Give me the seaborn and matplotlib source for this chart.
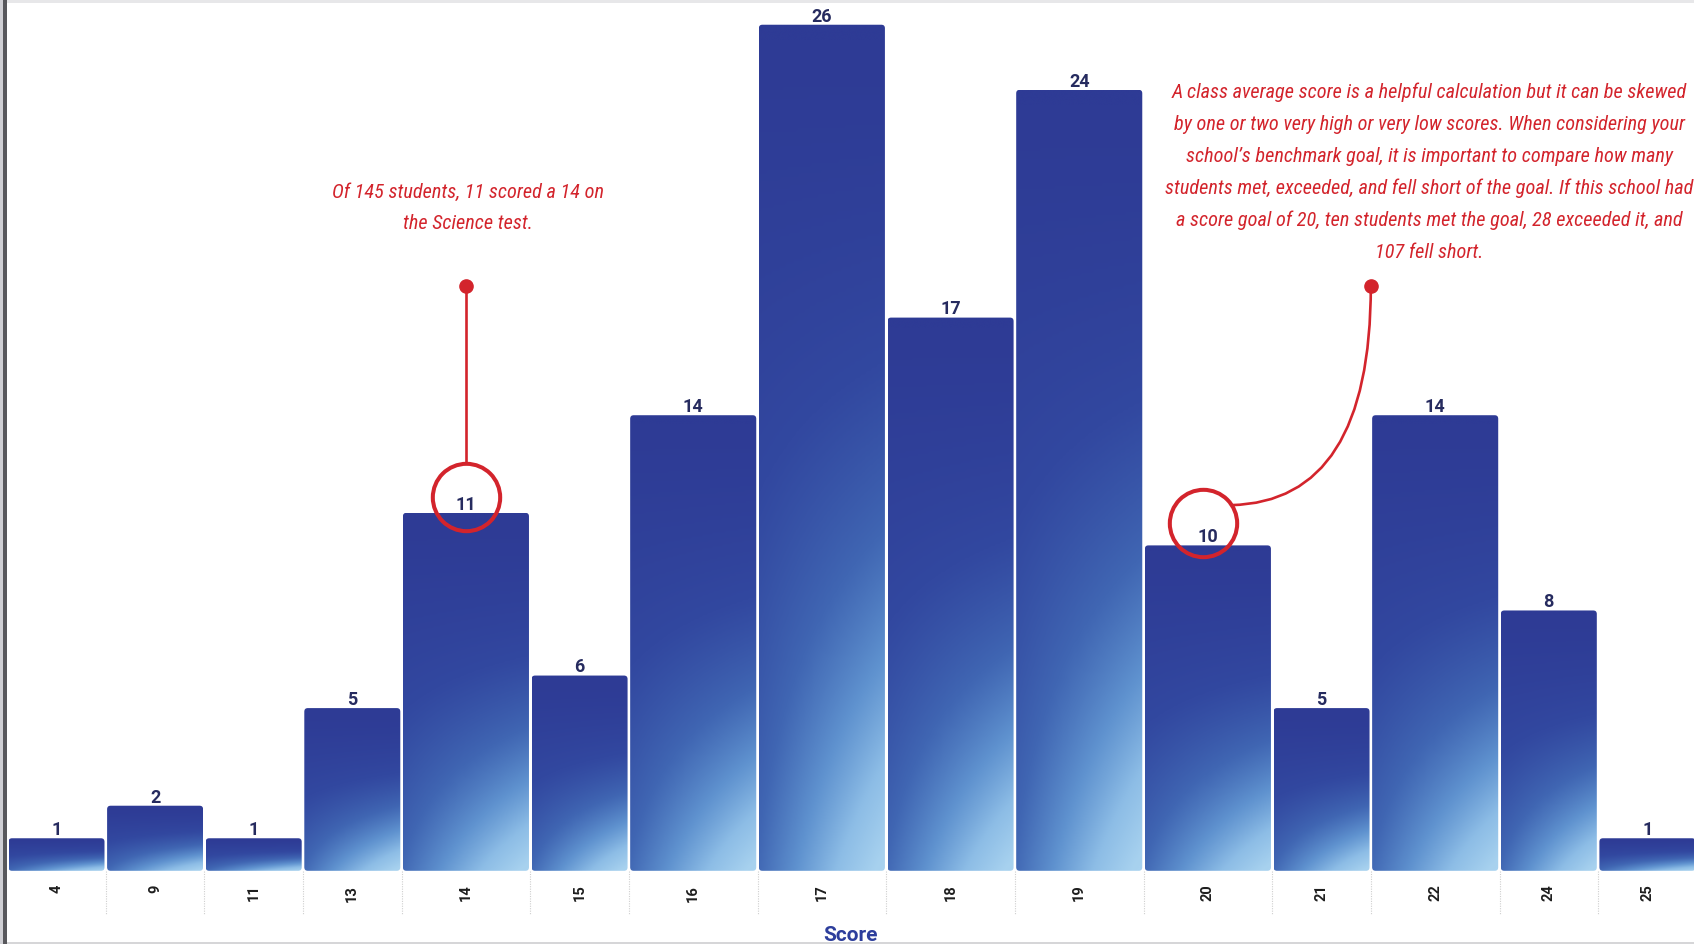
import numpy as np
import pandas as pd
import matplotlib
matplotlib.use("Agg")
import matplotlib.pyplot as plt
import seaborn as sns
from matplotlib import font_manager as fm
from matplotlib.patches import FancyBboxPatch, Rectangle, PathPatch
from matplotlib.path import Path
from matplotlib.colors import LinearSegmentedColormap

# ---- data -------------------------------------------------------------
scores = ["4", "9", "11", "13", "14", "15", "16", "17", "18", "19", "20", "21", "22", "24", "25"]
counts = [1, 2, 1, 5, 11, 6, 14, 26, 17, 24, 10, 5, 14, 8, 1]

note_left = ["Of 145 students, 11 scored a 14 on",
             "the Science test."]
note_right = ["A class average score is a helpful calculation but it can be skewed",
              "by one or two very high or very low scores. When considering your",
              "school\u2019s benchmark goal, it is important to compare how many",
              "students met, exceeded, and fell short of the goal. If this school had",
              "a score goal of 20, ten students met the goal, 28 exceeded it, and",
              "107 fell short."]
highlight_left = "14"
highlight_right = "20"

# ---- style ------------------------------------------------------------
W, H = 1694, 944
RED = "#d3242c"
NAVY = "#262b5f"
BLUE = "#2d3e9c"

sns.set_theme(style="white")
plt.rcParams["font.family"] = ["Roboto", "DejaVu Sans"]


def note_font():
    entries = fm.fontManager.ttflist
    prefs = ["Liberation Sans Narrow", "DejaVu Sans Condensed", "Roboto Condensed",
             "Open Sans Condensed", "Noto Sans Condensed"]
    for name in prefs:
        for e in entries:
            if e.name == name and e.style in ("italic", "oblique") and e.weight in (400, "normal", "regular"):
                return fm.FontProperties(fname=e.fname)
    for e in entries:
        fn = e.fname.lower()
        if ("narrow" in fn or "condensed" in fn) and ("italic" in fn or "oblique" in fn) and "bold" not in fn:
            return fm.FontProperties(fname=e.fname)
    return fm.FontProperties(family="DejaVu Sans", style="italic")


fig = plt.figure(figsize=(W / 100, H / 100), dpi=100)
fig.patch.set_facecolor("white")

base_px = 870.8           # baseline, pixels from top
left_px = 7.2
ax = fig.add_axes([left_px / W, (H - base_px) / H, 1 - left_px / W, base_px / H])

df = pd.DataFrame({"Score": scores, "Students": counts})
sns.barplot(data=df, x="Score", y="Students", ax=ax, color="#2e3b95",
            saturation=1, width=1.0, errorbar=None)

# two-digit counts get wider columns
widths = np.where(np.array(counts) >= 10, 1.305, 1.0)
edges = np.concatenate([[0.0], np.cumsum(widths)])
centers = edges[:-1] + widths / 2

px_per_x = 98.6
y_top = 26.76
px_per_y = base_px / y_top
gap = 2.6 / px_per_x

cmap = LinearSegmentedColormap.from_list(
    "bar_grad", ["#2e3b95", "#3248a0", "#4066b3", "#5f92cf", "#8dbde6", "#a8d2ef"])
nx, ny = 80, 240
u = np.linspace(0, 1, nx)[None, :]
v = np.linspace(0, 1, ny)[:, None]
depth = 1 - v
grad = np.clip(0.42 * depth ** 1.25 + 0.62 * u * depth ** 2.4, 0, 1)

r_x = 3.5 / px_per_x
aspect = (3.5 / px_per_y) / r_x
for patch, x0, w, c in zip(ax.patches, edges[:-1], widths, counts):
    patch.set_x(x0 + gap / 2)
    patch.set_width(w - gap)
    patch.set_visible(False)
    bx0, bx1 = x0 + gap / 2, x0 + w - gap / 2
    box = FancyBboxPatch((bx0, 0), bx1 - bx0, c,
                         boxstyle=f"round,pad=0,rounding_size={r_x}",
                         mutation_aspect=aspect, facecolor="none", edgecolor="none")
    ax.add_patch(box)
    im = ax.imshow(grad, cmap=cmap, vmin=0, vmax=1, origin="lower",
                   extent=(bx0, bx1, 0, c), aspect="auto",
                   interpolation="bicubic", zorder=2)
    im.set_clip_path(box)
    ax.annotate(str(c), (x0 + w / 2, c), xytext=(0, -0.6), textcoords="offset points",
                ha="center", va="bottom", fontsize=13, fontweight="bold",
                color=NAVY, zorder=5)

ax.set_xlim(0, (W - left_px) / px_per_x)
ax.set_ylim(0, y_top)
ax.set_aspect("auto")

# category axis
ax.set_xticks(centers)
ax.set_xticklabels(scores, rotation=90, fontsize=10.5, fontweight="bold", color="#1e1e1e")
ax.tick_params(axis="x", length=0, pad=10)
ax.set_yticks([])
ax.set_ylabel("")
for s in ax.spines.values():
    s.set_visible(False)

sep = ax.vlines(edges[1:-1], 0, -44 / px_per_y, colors="#cfcfcf",
                linestyles=(0, (1, 1.2)), linewidth=0.8, zorder=1)
sep.set_clip_on(False)

ax.set_xlabel("Score", fontsize=15, fontweight="bold", color=BLUE)
ax.xaxis.set_label_coords(0.5, -65 / base_px)
ax.xaxis.label.set_va("center")

# ---- callouts ---------------------------------------------------------
i_l = scores.index(highlight_left)
i_r = scores.index(highlight_right)
dot_y = 17.97
ring_kw = dict(marker="o", markersize=48.5, markerfacecolor="none",
               markeredgecolor=RED, markeredgewidth=2.9, linestyle="none", zorder=6)
dot_kw = dict(marker="o", markersize=9.5, color=RED, linestyle="none", zorder=7)

ring_l_y = counts[i_l] + 15.5 / px_per_y
ring_r_y = counts[i_r] + 22.5 / px_per_y
ring_r_x = centers[i_r] - 5.0 / px_per_x
ring_r_px = 33.5

ax.plot([centers[i_l]], [ring_l_y], **ring_kw)
ax.plot([ring_r_x], [ring_r_y], **ring_kw)

ax.plot([centers[i_l], centers[i_l]], [dot_y, ring_l_y + ring_r_px / px_per_y],
        color=RED, lw=1.9, zorder=6, solid_capstyle="butt")
ax.plot([centers[i_l]], [dot_y], **dot_kw)

x_start = edges[i_r + 2]
ang = np.deg2rad(32)
x_end = ring_r_x + ring_r_px * np.cos(ang) / px_per_x
y_end = ring_r_y + ring_r_px * np.sin(ang) / px_per_y
curve = Path([(x_start, dot_y), (x_start, y_end + 0.1), (x_end, y_end)],
             [Path.MOVETO, Path.CURVE3, Path.CURVE3])
ax.add_patch(PathPatch(curve, facecolor="none", edgecolor=RED, lw=1.9, zorder=6))
ax.plot([x_start], [dot_y], **dot_kw)

# ---- notes ------------------------------------------------------------
fp = note_font()
renderer = fig.canvas.get_renderer()
probe = fig.text(0, 0, note_right[3], fontproperties=fp, fontsize=20)
wpx = probe.get_window_extent(renderer).width
probe.remove()
note_size = min(16.0, 20 * 526 / wpx)


def draw_note(lines, cx, first_baseline, step):
    for k, line in enumerate(lines):
        fig.text(cx / W, 1 - (first_baseline + k * step) / H, line,
                 fontproperties=fp, fontsize=note_size, color=RED,
                 ha="center", va="baseline")


draw_note(note_left, 468, 197.5, 31.5)
draw_note(note_right, 1429, 98.5, 31.9)

# ---- page frame -------------------------------------------------------
fig.add_artist(Rectangle((0, 1 - 3.3 / H), 1, 3.3 / H, transform=fig.transFigure,
                         facecolor="#e7e7e9", edgecolor="none", zorder=10))
fig.add_artist(Rectangle((0, 0), 1, 2.5 / H, transform=fig.transFigure,
                         facecolor="#d6d6d8", edgecolor="none", zorder=10))
fig.add_artist(Rectangle((0, 0), 2.8 / W, 1, transform=fig.transFigure,
                         facecolor="#cfcfd4", edgecolor="none", zorder=10))
fig.add_artist(Rectangle((2.8 / W, 0), 4.5 / W, 1, transform=fig.transFigure,
                         facecolor="#58585c", edgecolor="none", zorder=10))

fig.savefig("out.png", dpi=100)
